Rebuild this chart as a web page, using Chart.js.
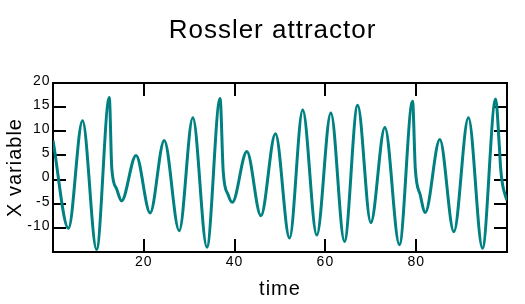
<!DOCTYPE html>
<html>
<head>
    <title>Rossler attractor</title>
    <script src="https://cdn.jsdelivr.net/npm/chart.js"></script>
    <style>
        body { margin: 0; background: #fff; }
    </style>
</head>
<body>

<canvas id="myChart" width="525" height="304"></canvas>

<script>
    // points: peaks, troughs and the knees after the big spikes
    const times = [0, 3.4, 6.5, 9.6, 12.4, 12.95, 14.0, 15.1, 18.3, 21.4, 24.5, 27.8, 30.8, 33.9,
        36.8, 37.5, 38.6, 39.5, 42.7, 45.8, 49.0, 52.1, 55.0, 58.1, 61.2, 64.2, 67.1, 70.0,
        73.1, 76.3, 79.2, 79.8, 80.9, 82.0, 85.2, 88.3, 91.5, 94.6, 97.5, 98.3, 98.6, 99.05, 99.6, 100];
    const xValues = [8.1, -10.1, 12.2, -14.5, 17.0, 2.3, -1.9, -4.4, 5.0, -6.9, 8.1, -10.6, 12.8, -14.0,
        16.8, 1.6, -3.2, -4.7, 5.8, -7.5, 9.5, -12.1, 14.4, -11.5, 13.8, -12.8, 15.4, -8.9,
        10.8, -13.5, 16.2, 2.3, -3.2, -6.8, 8.3, -10.8, 12.8, -14.2, 16.7, 7.1, 2.3, -1.2, -3.2, -4.3];

    const timeTicks = [20, 40, 60, 80];
    const valueTicks = [-10, -5, 0, 5, 10, 15, 20];

    Chart.defaults.font.family = "'Liberation Sans', Arial, sans-serif";
    Chart.defaults.color = '#000';

    // the old plot has slightly spaced out lettering
    const spacing = {
        id: 'spacing',
        beforeUpdate(chart) { chart.ctx.letterSpacing = '1px'; },
        beforeDraw(chart) { chart.ctx.letterSpacing = '1px'; }
    };

    const frame = { display: true, color: '#000', width: 2 };
    // ticks pointing into the plot
    const marks = { drawOnChartArea: false, drawTicks: true, tickLength: -13, color: '#000', lineWidth: 2 };

    const ctx = document.getElementById('myChart').getContext('2d');
    const chart = new Chart(ctx, {
        type: 'line',
        data: {
            datasets: [{
                data: times.map((t, i) => ({ x: t, y: xValues[i] })),
                borderColor: '#008080',
                borderWidth: 3,
                pointRadius: 0,
                cubicInterpolationMode: 'monotone'
            }]
        },
        options: {
            responsive: false,
            animation: false,
            layout: { padding: { left: 20, right: 0, top: 0, bottom: 0 }, autoPadding: false },
            plugins: {
                legend: { display: false },
                tooltip: { enabled: false },
                title: {
                    display: true,
                    text: 'Rossler attractor',
                    font: { size: 26, weight: 'normal' },
                    padding: { top: 15.4, bottom: 36.4 }
                }
            },
            scales: {
                x: {
                    type: 'linear', position: 'bottom', min: 0, max: 100,
                    ticks: {
                        stepSize: 20, maxRotation: 0, autoSkip: false, padding: 15,
                        font: { size: 14 },
                        callback: v => timeTicks.includes(v) ? String(v) : ''
                    },
                    grid: marks, border: frame,
                    title: { display: true, text: 'time', font: { size: 20 }, padding: { top: 0, bottom: 3 } },
                    afterFit: s => { s.height = 52; }
                },
                x2: {
                    type: 'linear', position: 'top', min: 0, max: 100,
                    ticks: { stepSize: 20, display: false },
                    grid: marks, border: frame,
                    afterFit: s => { s.height = 0; }
                },
                y: {
                    type: 'linear', position: 'left', min: -15, max: 20,
                    ticks: {
                        stepSize: 5, padding: 15.5, labelOffset: -2,
                        font: { size: 14 },
                        callback: v => valueTicks.includes(v) ? String(v) : ''
                    },
                    grid: marks, border: frame,
                    title: { display: true, text: 'X variable', font: { size: 20 }, padding: { top: -16.5, bottom: 0 } },
                    afterFit: s => { s.width = 33; }
                },
                y2: {
                    type: 'linear', position: 'right', min: -15, max: 20,
                    ticks: { stepSize: 5, display: false },
                    grid: marks, border: frame,
                    afterFit: s => { s.width = 18; }
                }
            }
        },
        plugins: [spacing]
    });
</script>

</body>
</html>
